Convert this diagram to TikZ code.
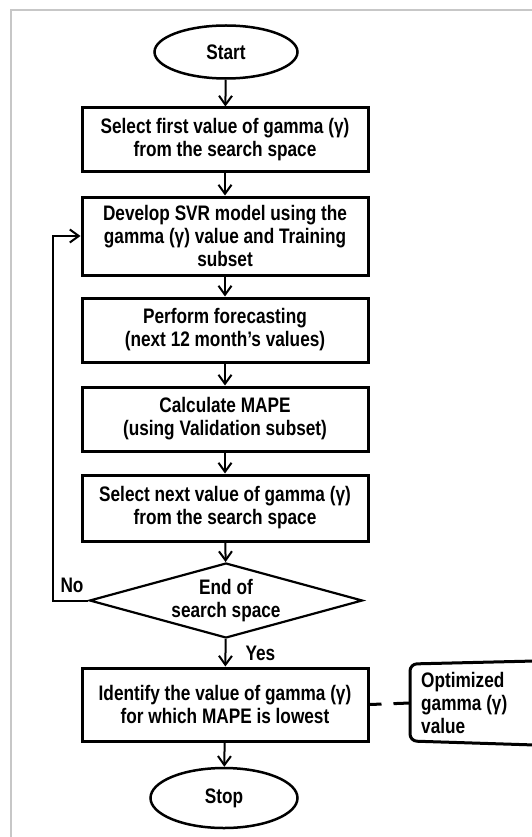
\documentclass[tikz,border=0pt]{standalone}
\usepackage{fontspec}
\setmainfont{Liberation Sans}[FakeStretch=0.82]
\usetikzlibrary{arrows.meta,shapes.geometric}
\begin{document}
\begin{tikzpicture}[x=1pt,y=-1pt,
  txt/.style={font=\fontsize{21}{23}\selectfont\bfseries, align=center, text=black},
  procbox/.style={txt, draw=black, line width=3pt, minimum width=286pt, inner sep=0pt},
  term/.style={txt, draw=black, ellipse, line width=2.5pt, inner sep=0pt},
  decis/.style={txt, draw=black, diamond, line width=2.2pt, inner sep=0pt, aspect=3.64, minimum width=273pt, minimum height=75pt},
  arr/.style={line width=2pt, -{Straight Barb[length=9pt,width=13pt,line width=2pt]}},
  plain/.style={txt}
]
\useasboundingbox (0,0) rectangle (531,837);
\fill[white] (0,0) rectangle (531,837);
% frame
\draw[black!22, line width=1.6pt] (11,845) -- (11,10) -- (540,10);

\node[term, minimum width=143pt, minimum height=53pt] (start) at (226,52) {Start};
\node[procbox, minimum height=64pt] (b1) at (225,140) {Select first value of gamma (γ)\\from the search space};
\node[procbox, minimum height=78pt] (b2) at (225,236) {Develop SVR model using the\\gamma (γ) value and Training\\subset};
\node[procbox, minimum height=64pt] (b3) at (225,330) {Perform forecasting\\(next 12 month’s values)};
\node[procbox, minimum height=64pt] (b4) at (225,419) {Calculate MAPE\\(using Validation subset)};
\node[procbox, minimum height=66pt] (b5) at (225,508) {Select next value of gamma (γ)\\from the search space};
\node[decis] (dia) at (226,600.5) {End of\\search space};
\node[procbox, minimum height=73pt] (b6) at (225,704.5) {Identify the value of gamma (γ)\\for which MAPE is lowest};
\node[term, minimum width=147pt, minimum height=60pt] (stop) at (224,798) {Stop};

\draw[arr] (start) -- (b1);
\draw[arr] (b1) -- (b2);
\draw[arr] (b2) -- (b3);
\draw[arr] (b3) -- (b4);
\draw[arr] (b4) -- (b5);
\draw[arr] (b5) -- (dia);
\draw[arr] (dia) -- (b6);
\draw[arr] (b6) -- (stop);

\coordinate (loopx) at (53,0);
\draw[arr] (dia.west) -- (dia.west -| loopx) |- (b2.west);

\node[plain, anchor=west] (no) at (57,585) {No};
\node[plain, anchor=west] (yes) at (242,653) {Yes};

% annotation
\coordinate (brk) at (410,703);
\draw[line width=3pt, dash pattern=on 12pt off 12pt on 20pt off 0pt] (b6.east) -- (brk);
\draw[line width=3pt, rounded corners=7pt] (535,661) -- (410,664) -- (410,741) -- (535,745);
\node[txt, align=left, anchor=west, inner sep=0pt] (anno) at (421,703) {Optimized\\gamma (γ)\\value};
\end{tikzpicture}
\end{document}
